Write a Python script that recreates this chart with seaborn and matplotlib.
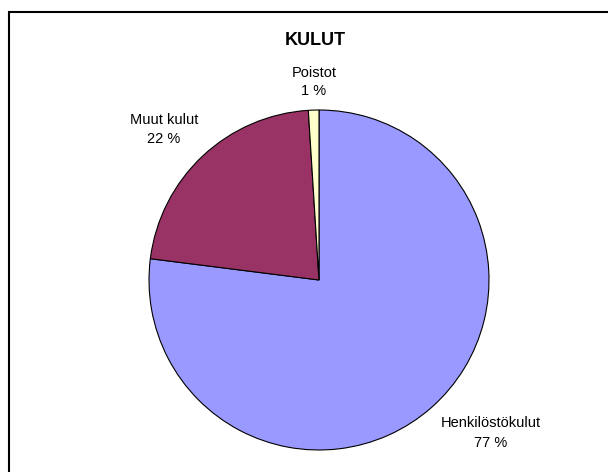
import matplotlib
matplotlib.use("Agg")
import matplotlib.pyplot as plt
import matplotlib.patches as mpatches
import seaborn as sns

# data
categories = ["Henkilöstökulut", "Muut kulut", "Poistot"]
shares = [77, 22, 1]
pct_labels = ["77 %", "22 %", "1 %"]
colors = ["#9999FF", "#993366", "#FFFFCC"]
title = "KULUT"

sns.set_theme(style="white")
plt.rcParams["font.family"] = ["Liberation Sans", "DejaVu Sans"]

W, H = 608, 472
fig = plt.figure(figsize=(W / 100, H / 100), dpi=100)
fig.patch.set_facecolor("white")

# pie centre (319, 280) px, radius 170 px
cx, cy, r = 319, 280, 170
ax = fig.add_axes([(cx - r) / W, (H - cy - r) / H, 2 * r / W, 2 * r / H])
ax.pie(shares, colors=sns.color_palette(colors), startangle=90, counterclock=False,
       wedgeprops=dict(edgecolor="black", linewidth=0.8))
ax.set_xlim(-1, 1)
ax.set_ylim(-1, 1)
ax.set_aspect("equal")
ax.axis("off")

def px(x, y):
    # pixel position -> figure fraction
    return x / W, 1 - y / H

# labels (name line baseline, percent line baseline)
label_pos = {"Henkilöstökulut": (491, 427, 447),
             "Muut kulut": (164, 124, 143),
             "Poistot": (314, 77, 95)}
for name, pct in zip(categories, pct_labels):
    x, y1, y2 = label_pos[name]
    fig.text(*px(x, y1), name, ha="center", va="baseline", fontsize=10.5, color="black")
    fig.text(*px(x, y2), pct, ha="center", va="baseline", fontsize=10.5, color="black")

fig.text(*px(315, 45), title, ha="center", va="baseline", fontsize=13,
         fontweight="bold", color="black")

# chart area frame (runs off the right and bottom edges)
fig.patches.append(mpatches.Rectangle((8.5 / W, -0.1), 1.2, 1 - 11.5 / H + 0.1,
                                      transform=fig.transFigure, fill=False,
                                      edgecolor="black", linewidth=1.5))

fig.savefig("out.png", dpi=100, facecolor="white")
